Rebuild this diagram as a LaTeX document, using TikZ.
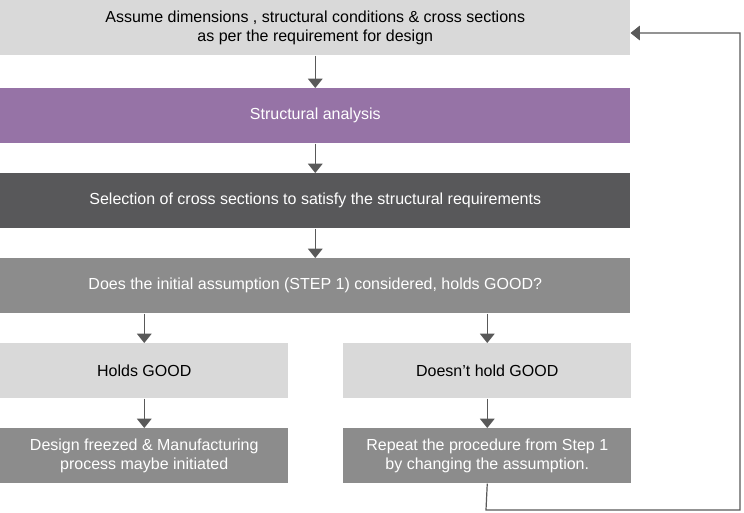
\documentclass[tikz,border=0pt]{standalone}
\usepackage{fontspec}
\setmainfont{Liberation Sans}
\usetikzlibrary{arrows.meta,positioning}
\definecolor{lightbox}{HTML}{D9D9D9}
\definecolor{purplebox}{HTML}{9673A6}
\definecolor{darkbox}{HTML}{58585A}
\definecolor{midbox}{HTML}{8C8C8C}
\definecolor{arrowgray}{HTML}{595959}
\tikzset{
  box/.style={draw=none,inner sep=0pt,align=center,font=\fontsize{12}{14}\selectfont,
    minimum height=41.25pt},
  wide/.style={box,minimum width=472.5pt},
  half/.style={box,minimum width=216pt},
  flow/.style={draw=arrowgray,line width=0.9pt,-{Triangle[length=7pt,width=11pt]}}
}
\begin{document}
\begin{tikzpicture}[x=0.75pt,y=-0.75pt]
  \useasboundingbox (0,0) rectangle (744,513);

  \node[wide,fill=lightbox,anchor=north west] (assume) at (0,0)
    {Assume dimensions , structural conditions \& cross sections\\as per the requirement for design};
  \node[wide,fill=purplebox,text=white,anchor=north west] (analysis) at (0,88) {Structural analysis};
  \node[wide,fill=darkbox,text=white,anchor=north west] (select) at (0,173)
    {Selection of cross sections to satisfy the structural requirements};
  \node[wide,fill=midbox,text=white,anchor=north west] (check) at (0,258)
    {Does the initial assumption (STEP 1) considered, holds GOOD?};
  \node[half,fill=lightbox,anchor=north west] (good) at (0,343) {Holds GOOD};
  \node[half,fill=lightbox,anchor=north west] (notgood) at (343,343) {Doesn’t hold GOOD};
  \node[half,fill=midbox,text=white,anchor=north west] (freeze) at (0,428)
    {Design freezed \& Manufacturing\\process maybe initiated};
  \node[half,fill=midbox,text=white,anchor=north west] (repeat) at (343,428)
    {Repeat the procedure from Step 1\\by changing the assumption.};

  \draw[flow] (assume) -- (analysis);
  \draw[flow] (analysis) -- (select);
  \draw[flow] (select) -- (check);
  \draw[flow] (check.south -| good) -- (good);
  \draw[flow] (check.south -| notgood) -- (notgood);
  \draw[flow] (good) -- (freeze);
  \draw[flow] (notgood) -- (repeat);

  \coordinate (loopa) at (486,510);
  \coordinate (loopb) at (740,510);
  \coordinate (loopc) at (740,33);
  \draw[flow] (repeat.south) -- (loopa) -- (loopb) -- (loopc) -- (loopc -| assume.east);
\end{tikzpicture}
\end{document}
